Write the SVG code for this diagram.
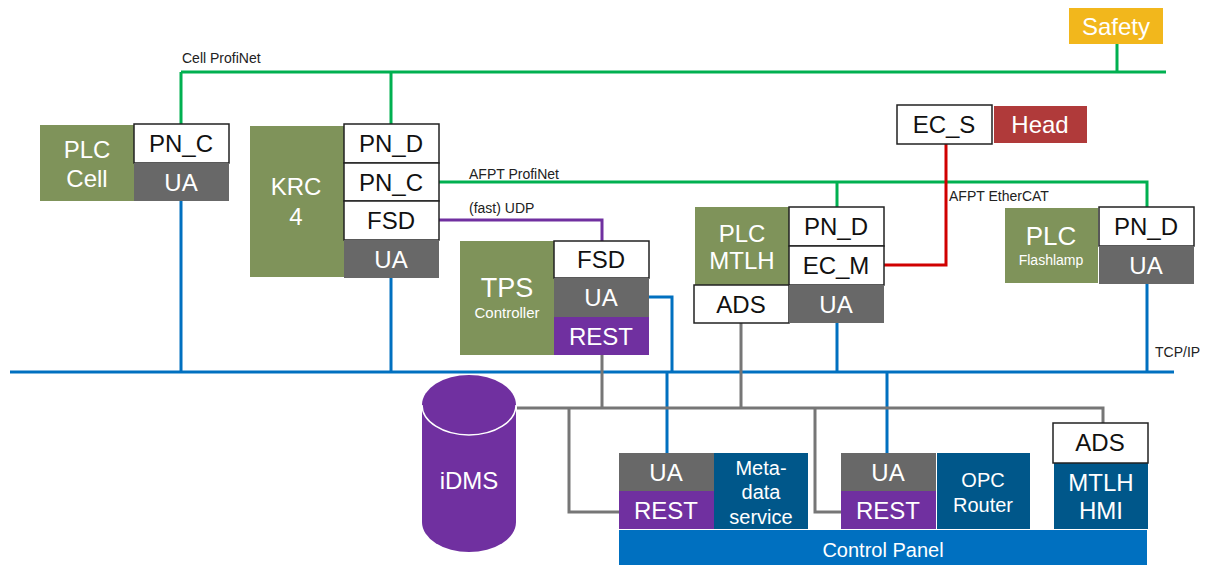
<svg xmlns="http://www.w3.org/2000/svg" width="1209" height="565" viewBox="0 0 1209 565">
  <style>
    text { font-family: "Liberation Sans", Arial, sans-serif; text-anchor: middle; }
    .lbl { font-size: 24px; }
    .dark { fill: #111111; }
    .light { fill: #ffffff; }
    .small { font-size: 14px; fill: #222222; text-anchor: start; }
    .white { fill: #ffffff; stroke: #222222; stroke-width: 1.5; }
    .olive { fill: #7F935A; }
    .grey { fill: #686868; }
    .purple { fill: #7030A0; }
    .navy { fill: #00578A; }
    .wire { fill: none; stroke-width: 3; }
    .pn { stroke: #00B050; }
    .tcp { stroke: #0070C0; }
    .udp { stroke: #7030A0; }
    .ads { stroke: #767676; }
    .ecat { stroke: #D00000; }
  </style>

  <!-- connectors -->
  <g id="connectors">
    <!-- Cell ProfiNet -->
    <path class="wire pn" d="M181 72 H1166 M181 72 V124 M391 72 V124 M1117 44 V72"/>
    <!-- AFPT ProfiNet -->
    <path class="wire pn" d="M439 182 H1147 V207 M837 182 V207"/>
    <!-- (fast) UDP -->
    <path class="wire udp" d="M439 220 H602 V241"/>
    <!-- AFPT EtherCAT -->
    <path class="wire ecat" d="M884 265 H946 V144"/>
    <!-- TCP/IP backbone -->
    <path class="wire tcp" d="M10 372 H1174 M181 201 V372 M391 278 V372 M649 297 H672 V372 M837 323 V372 M1147 284 V372 M667 372 V453 M887 372 V453"/>
    <!-- ADS / REST network -->
    <path class="wire ads" d="M517 408 H1103 V423 M602 355 V408 M741 323 V408 M569 408 V512 H619 M815 408 V512 H841"/>
    <text class="small" x="182" y="63">Cell ProfiNet</text>
    <text class="small" x="469" y="179">AFPT ProfiNet</text>
    <text class="small" x="469" y="213">(fast) UDP</text>
    <text class="small" x="949" y="201">AFPT EtherCAT</text>
    <text class="small" x="1155" y="357">TCP/IP</text>
  </g>

  <!-- Safety -->
  <g id="safety">
    <rect x="1069" y="8" width="94" height="36" fill="#F2B71C"/>
    <text class="lbl light" x="1116" y="35">Safety</text>
  </g>

  <!-- PLC Cell -->
  <g id="plc-cell">
    <rect class="olive" x="40" y="125" width="94" height="76"/>
    <text class="lbl light" x="87" y="158">PLC</text>
    <text class="lbl light" x="87" y="187">Cell</text>
    <rect class="white" x="134" y="124" width="95" height="39"/>
    <text class="lbl dark" x="181" y="152">PN_C</text>
    <rect class="grey" x="134" y="163" width="95" height="38"/>
    <text class="lbl light" x="181" y="191">UA</text>
  </g>

  <!-- KRC 4 -->
  <g id="krc4">
    <rect class="olive" x="250" y="126" width="94" height="151"/>
    <text class="lbl light" x="296" y="195">KRC</text>
    <text class="lbl light" x="296" y="225">4</text>
    <rect class="white" x="344" y="124" width="95" height="39"/>
    <text class="lbl dark" x="391" y="152">PN_D</text>
    <rect class="white" x="344" y="163" width="95" height="38"/>
    <text class="lbl dark" x="391" y="191">PN_C</text>
    <rect class="white" x="344" y="201" width="95" height="39"/>
    <text class="lbl dark" x="391" y="229">FSD</text>
    <rect class="grey" x="344" y="240" width="95" height="38"/>
    <text class="lbl light" x="391" y="268">UA</text>
  </g>

  <!-- TPS Controller -->
  <g id="tps-controller">
    <rect class="olive" x="460" y="241" width="94" height="114"/>
    <text class="light" x="507" y="297" font-size="27">TPS</text>
    <text class="light" x="507" y="318" font-size="15">Controller</text>
    <rect class="white" x="554" y="241" width="95" height="37"/>
    <text class="lbl dark" x="601" y="268">FSD</text>
    <rect class="grey" x="554" y="278" width="95" height="39"/>
    <text class="lbl light" x="601" y="306">UA</text>
    <rect class="purple" x="554" y="317" width="95" height="38"/>
    <text class="lbl light" x="601" y="345">REST</text>
  </g>

  <!-- PLC MTLH -->
  <g id="plc-mtlh">
    <rect class="olive" x="695" y="207" width="94" height="80"/>
    <text class="lbl light" x="742" y="242">PLC</text>
    <text class="lbl light" x="742" y="269">MTLH</text>
    <rect class="white" x="789" y="207" width="95" height="39"/>
    <text class="lbl dark" x="836" y="235">PN_D</text>
    <rect class="white" x="789" y="246" width="95" height="39"/>
    <text class="lbl dark" x="836" y="274">EC_M</text>
    <rect class="white" x="694" y="285" width="95" height="38"/>
    <text class="lbl dark" x="741" y="313">ADS</text>
    <rect class="grey" x="789" y="285" width="95" height="38"/>
    <text class="lbl light" x="836" y="313">UA</text>
  </g>

  <!-- EC_S / Head -->
  <g id="head">
    <rect class="white" x="897" y="105" width="95" height="39"/>
    <text class="lbl dark" x="944" y="133">EC_S</text>
    <rect x="994" y="106" width="93" height="37" fill="#B03A3A"/>
    <text class="lbl light" x="1040" y="133">Head</text>
  </g>

  <!-- PLC Flashlamp -->
  <g id="plc-flashlamp">
    <rect class="olive" x="1005" y="208" width="93" height="75"/>
    <text class="light" x="1051" y="245" font-size="26">PLC</text>
    <text class="light" x="1051" y="265" font-size="14">Flashlamp</text>
    <rect class="white" x="1099" y="207" width="95" height="39"/>
    <text class="lbl dark" x="1146" y="235">PN_D</text>
    <rect class="grey" x="1099" y="246" width="95" height="38"/>
    <text class="lbl light" x="1146" y="274">UA</text>
  </g>

  <!-- iDMS database -->
  <g id="idms">
    <path d="M422 405 V522 A47 30 0 0 0 516 522 V405 A47 30 0 0 0 422 405 Z" fill="#7030A0"/>
    <path d="M422 405 A47 30 0 0 0 516 405" fill="none" stroke="#ffffff" stroke-width="1.5"/>
    <text class="lbl light" x="469" y="489">iDMS</text>
  </g>

  <!-- Control Panel -->
  <g id="control-panel">
    <rect x="619" y="530" width="528" height="35" fill="#0070C0"/>
    <text class="light" x="883" y="557" font-size="20">Control Panel</text>
  </g>

  <!-- Metadata service -->
  <g id="metadata-service">
    <rect class="grey" x="619" y="453" width="95" height="38"/>
    <text class="lbl light" x="666" y="481">UA</text>
    <rect class="purple" x="619" y="491" width="95" height="38"/>
    <text class="lbl light" x="666" y="519">REST</text>
    <rect class="navy" x="714" y="453" width="94" height="76"/>
    <text class="light" x="761" y="475" font-size="20">Meta-</text>
    <text class="light" x="761" y="499" font-size="20">data</text>
    <text class="light" x="761" y="524" font-size="20">service</text>
  </g>

  <!-- OPC Router -->
  <g id="opc-router">
    <rect class="grey" x="841" y="453" width="95" height="38"/>
    <text class="lbl light" x="888" y="481">UA</text>
    <rect class="purple" x="841" y="491" width="95" height="38"/>
    <text class="lbl light" x="888" y="519">REST</text>
    <rect class="navy" x="937" y="453" width="93" height="76"/>
    <text class="light" x="983" y="487" font-size="20">OPC</text>
    <text class="light" x="983" y="512" font-size="20">Router</text>
  </g>

  <!-- MTLH HMI -->
  <g id="mtlh-hmi">
    <rect class="navy" x="1054" y="463" width="94" height="66"/>
    <text class="lbl light" x="1101" y="491">MTLH</text>
    <text class="lbl light" x="1101" y="519">HMI</text>
    <rect class="white" x="1053" y="423" width="95" height="40"/>
    <text class="lbl dark" x="1100" y="451">ADS</text>
  </g>
</svg>
